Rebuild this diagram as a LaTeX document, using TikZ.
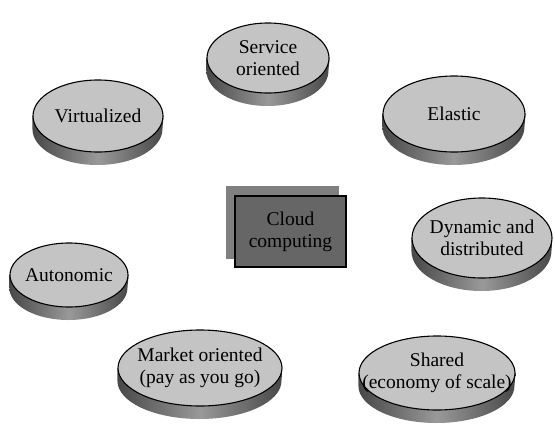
\documentclass[tikz,border=0pt]{standalone}
\usepackage{fontspec}
\setmainfont{Liberation Serif}
\usetikzlibrary{shapes.geometric,backgrounds}

\begin{document}
\begin{tikzpicture}[x=1pt,y=-1pt]
    % Define styles
    \tikzset{
        disktop/.style={ellipse, draw, line width=1.1pt, fill=black!23, inner sep=0pt},
        disktext/.style={align=center, font=\fontsize{19.5}{22}\selectfont},
        diskside/.style={left color=black!72, right color=black!72, middle color=black!40},
        cloudbox/.style={rectangle, draw, line width=1.4pt, fill=black!60, minimum width=111pt, minimum height=71pt, align=center, font=\fontsize{19.5}{22}\selectfont}
    }
    \useasboundingbox (0,0) rectangle (555,426);

    % Nodes
    \node[disktop, minimum width=122pt, minimum height=70pt, label={[disktext]center:Service\\oriented}] (service) at (268,58) {};
    \node[disktop, minimum width=130pt, minimum height=72pt, label={[disktext]center:Virtualized}] (virtualized) at (98,116) {};
    \node[disktop, minimum width=142pt, minimum height=76pt, label={[disktext]center:Elastic}] (elastic) at (454,114) {};
    \node[disktop, minimum width=140pt, minimum height=80pt, label={[disktext]center:Dynamic and\\distributed}] (dynamic) at (482,238) {};
    \node[disktop, minimum width=118pt, minimum height=64pt, label={[disktext]center:Autonomic}] (autonomic) at (69,275) {};
    \node[disktop, minimum width=164pt, minimum height=76pt, label={[disktext]center:Market oriented\\(pay as you go)}] (market) at (200,368) {};
    \node[disktop, minimum width=156pt, minimum height=74pt, label={[disktext]center:Shared\\(economy of scale)}] (shared) at (437,373) {};

    \node[cloudbox] (cloud) at (290.5,231.5) {Cloud\\computing};

    % Sides and shadow
    \begin{scope}[on background layer]
        \foreach \n/\rx/\ry in {service/61/35, virtualized/65/36, elastic/71/38, dynamic/70/40, autonomic/59/32, market/82/38, shared/78/37}
            \shade[diskside] (\n.west) -- ++(0,-13pt) arc[start angle=180, end angle=360, x radius=\rx pt, y radius=\ry pt] -- (\n.east) -- cycle;
        \fill[black!50] ([shift={(-8pt,9pt)}]cloud.south west) rectangle ([shift={(-8pt,9pt)}]cloud.north east);
    \end{scope}
\end{tikzpicture}
\end{document}
